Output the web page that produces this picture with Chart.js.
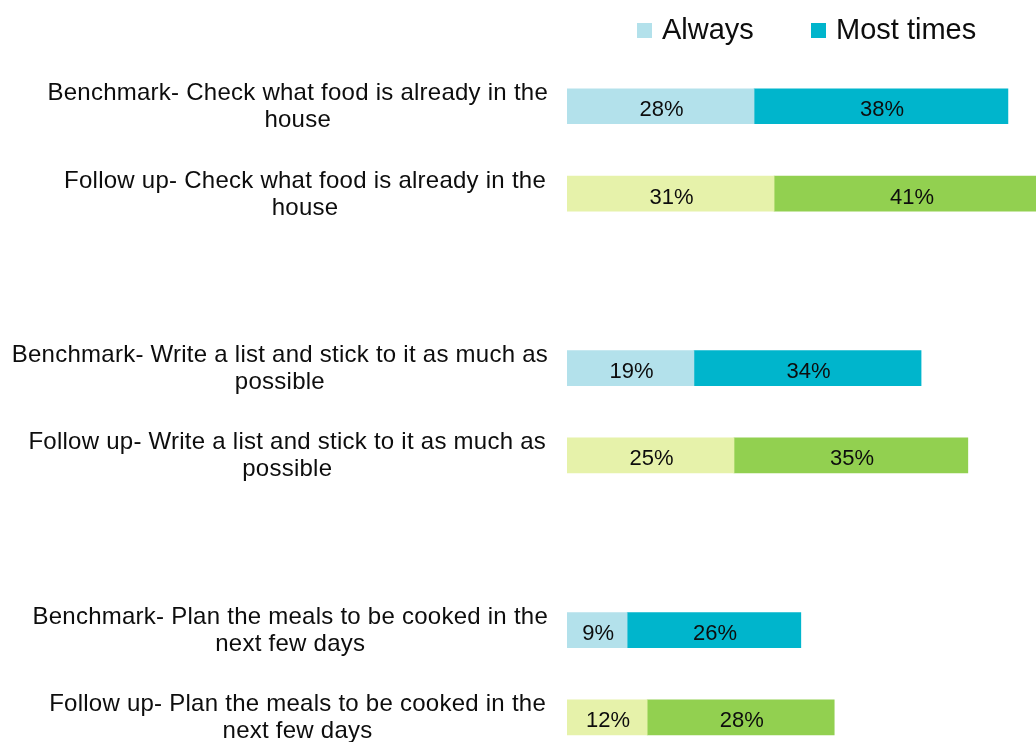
<!DOCTYPE html>
<html>
<head>
<meta charset="utf-8">
<script src="https://cdn.jsdelivr.net/npm/chart.js@4.4.1/dist/chart.umd.min.js"></script>
<style>
  html, body { margin: 0; padding: 0; background: #fff; }
  #frame { width: 1036px; height: 742px; overflow: hidden; position: relative; }
  #wrap { width: 1048px; height: 761px; position: relative; }
</style>
</head>
<body>
<div id="frame"><div id="wrap"><canvas id="chart"></canvas></div></div>
<script>
// rows, with an empty row between each pair
const categories = [
  ['Benchmark- Check what food is already in the', 'house'],
  ['Follow up- Check what food is already in the', 'house'],
  [''],
  ['Benchmark- Write a list and stick to it as much as', 'possible'],
  ['Follow up- Write a list and stick to it as much as', 'possible'],
  [''],
  ['Benchmark- Plan the meals to be cooked in the', 'next few days'],
  ['Follow up- Plan the meals to be cooked in the', 'next few days']
];
const seriesNames = ['Always', 'Most times'];
const alwaysValues = [28, 31, null, 19, 25, null, 9, 12];
const mostTimesValues = [38, 41, null, 34, 35, null, 26, 28];

const benchColors = ['#b3e1eb', '#00b5cc'];
const followColors = ['#e6f2aa', '#92d050'];
const FONT = "'Liberation Sans', Arial, sans-serif";

// benchmark rows in blue, follow-up rows in green
function rowColor(series) {
  return ctx => (categories[ctx.dataIndex][0].startsWith('Follow') ? followColors : benchColors)[series];
}

// two-line row labels, lines centred on each other, block right-aligned
const sideLabels = {
  id: 'sideLabels',
  afterDraw(chart) {
    const c = chart.ctx;
    const y = chart.scales.y;
    c.save();
    c.font = '24px ' + FONT;
    c.letterSpacing = '0.25px';
    c.fillStyle = '#0d0d0d';
    c.textAlign = 'center';
    c.textBaseline = 'alphabetic';
    const lh = 27;
    categories.forEach((lines, i) => {
      if (!lines[0]) return;
      const w = Math.max(...lines.map(l => c.measureText(l).width));
      const right = lines[0].startsWith('Follow') ? 546 : 548;
      const cx = right - w / 2;
      const cy = y.getPixelForValue(i);
      lines.forEach((l, k) => {
        c.fillText(l, cx, cy + (k - (lines.length - 1) / 2) * lh + 7.5);
      });
    });
    c.restore();
  }
};

const barValues = {
  id: 'barValues',
  afterDatasetsDraw(chart) {
    const c = chart.ctx;
    c.save();
    c.font = '22px ' + FONT;
    c.fillStyle = '#0d0d0d';
    c.textAlign = 'center';
    c.textBaseline = 'alphabetic';
    chart.data.datasets.forEach((ds, di) => {
      chart.getDatasetMeta(di).data.forEach((bar, i) => {
        if (ds.data[i] == null) return;
        const p = bar.getProps(['x', 'y', 'base'], true);
        c.fillText(ds.data[i] + '%', (p.x + p.base) / 2 + 1, p.y + 10);
      });
    });
    c.restore();
  }
};

const topLegend = {
  id: 'topLegend',
  afterDraw(chart) {
    const c = chart.ctx;
    const spots = [637, 811];
    c.save();
    c.font = '29px ' + FONT;
    c.textBaseline = 'alphabetic';
    seriesNames.forEach((name, i) => {
      c.fillStyle = benchColors[i];
      c.fillRect(spots[i], 23, 15, 15);
      c.fillStyle = '#0d0d0d';
      c.fillText(name, spots[i] + 25, 39);
    });
    c.restore();
  }
};

new Chart(document.getElementById('chart'), {
  type: 'bar',
  data: {
    labels: categories,
    datasets: [
      { label: seriesNames[0], data: alwaysValues, backgroundColor: rowColor(0) },
      { label: seriesNames[1], data: mostTimesValues, backgroundColor: rowColor(1) }
    ]
  },
  options: {
    indexAxis: 'y',
    responsive: true,
    maintainAspectRatio: false,
    animation: false,
    layout: { padding: { top: 62.6, left: 567, right: 0, bottom: 0 } },
    datasets: { bar: { barThickness: 35, borderWidth: 0 } },
    scales: {
      x: { stacked: true, min: 0, max: 72, display: false },
      y: { stacked: true, display: false }
    },
    plugins: {
      legend: { display: false },
      tooltip: { enabled: false }
    }
  },
  plugins: [sideLabels, barValues, topLegend]
});
</script>
</body>
</html>
